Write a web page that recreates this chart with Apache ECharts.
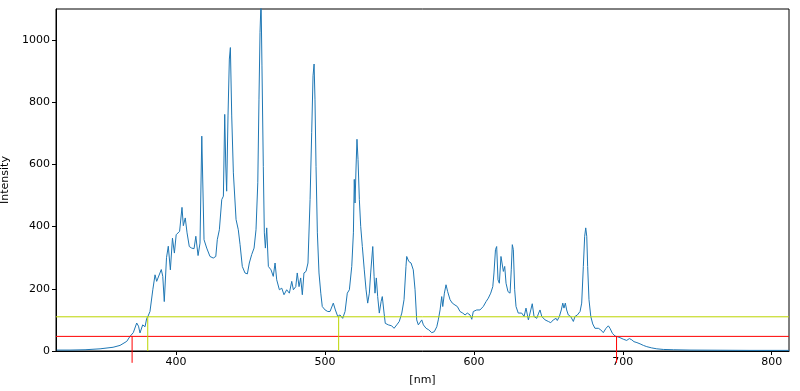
<!DOCTYPE html>
<html>
<head>
<meta charset="utf-8">
<script src="https://cdn.jsdelivr.net/npm/echarts@6/dist/echarts.min.js"></script>
<style>
html,body{margin:0;padding:0;background:#fff;}
#chart{width:800px;height:391px;}
</style>
</head>
<body>
<div id="chart"></div>
<script>
// Spectrum data
const wavelengths = [319.9,328.8,338.9,349.0,357.7,362.4,366.9,369.1,371.3,373.6,374.8,375.8,377.6,379.2,380.3,381.2,382.5,384.4,385.9,387.0,388.3,390.1,391.1,392.1,393.6,394.8,396.2,397.6,398.9,400.1,401.1,402.4,404.0,404.9,406.2,407.4,408.9,410.5,412.1,413.3,414.8,416.1,417.3,417.9,418.8,420.6,422.8,425.0,426.7,427.7,429.1,430.7,431.8,432.7,433.4,434.0,434.9,435.8,436.5,437.4,438.5,440.3,441.8,443.0,444.5,446.3,447.9,449.2,450.8,452.4,453.7,454.9,455.7,456.4,457.1,457.7,458.6,459.3,460.0,460.9,462.0,463.8,465.3,466.5,467.6,469.4,471.0,472.5,474.3,476.1,477.7,478.8,480.4,481.4,482.6,483.7,484.8,485.9,487.3,488.6,490.0,491.1,492.0,492.7,493.3,494.0,494.9,496.0,497.2,498.2,500.1,501.9,503.4,505.6,507.0,508.6,510.1,511.9,513.5,515.0,516.4,518.0,519.1,519.7,520.2,520.9,521.5,522.2,523.1,524.0,525.1,526.4,527.6,528.7,529.8,530.7,532.1,533.0,533.6,534.5,535.4,536.5,537.7,538.5,539.7,540.5,542.6,544.8,546.4,548.2,549.9,551.6,553.1,554.4,554.9,556.3,557.8,559.3,560.5,561.6,562.7,563.8,565.0,566.1,567.9,569.7,571.7,573.4,575.1,576.1,577.3,578.4,579.1,580.2,581.3,582.4,584.0,585.5,587.3,588.9,590.7,592.5,594.1,595.6,597.4,598.6,599.6,601.9,604.1,606.3,608.2,609.7,611.3,612.7,613.5,614.5,615.3,616.2,617.1,618.2,618.9,619.8,620.7,621.6,622.9,624.3,625.1,625.8,626.5,627.4,628.3,629.8,632.1,633.7,635.0,636.6,638.2,639.2,640.4,642.2,643.5,644.4,645.6,647.8,650.0,651.6,653.3,655.2,656.0,657.4,658.7,659.7,660.5,661.4,662.3,663.4,665.0,666.8,667.9,669.5,671.3,672.4,673.5,674.4,675.1,675.8,676.4,677.3,678.5,679.8,681.3,683.6,685.2,686.9,688.7,690.3,691.4,693.0,694.8,696.3,698.1,700.3,702.6,704.4,706.0,707.5,709.5,711.6,713.8,716.1,719.4,722.8,727.2,733.9,745.1,765.3,785.4,811.6];
const intensities = [3,3,4,7,12,18,31,47,59,90,80,58,84,78,105,112,127,197,245,224,218,262,240,159,300,337,261,363,315,374,374,385,462,403,428,380,336,331,329,369,307,347,691,695,358,331,304,299,304,358,390,487,498,761,595,514,756,939,976,756,573,423,390,342,272,251,248,283,310,331,390,541,810,1025,1130,917,594,380,331,396,272,261,240,283,229,197,202,181,197,186,224,197,207,251,207,235,181,251,256,283,487,702,885,923,810,594,380,251,186,143,132,127,127,154,132,111,116,105,127,186,197,272,380,552,476,595,681,616,487,401,336,261,197,154,186,251,336,240,186,235,175,122,159,175,122,89,84,81,73,84,95,122,165,272,304,288,283,261,197,100,84,89,100,84,73,68,59,62,78,100,132,175,143,186,213,191,165,154,148,143,127,122,116,122,116,102,127,132,132,143,159,170,186,207,251,326,336,229,218,304,304,256,272,218,191,186,261,342,326,197,143,122,122,111,138,100,132,152,111,105,122,132,111,100,95,91,100,105,98,111,132,154,138,154,132,116,111,95,111,116,127,154,272,369,396,369,272,165,111,87,73,73,68,59,73,81,73,57,48,46,43,38,34,40,36,30,27,23,18,14,10,7,5,4,3,2.5,2,2];

// Threshold markers
const lowLevel = 47;        // red horizontal level
const highLevel = 110;      // yellow-green horizontal level
const redEdges = [370.5, 695.8];
const greenEdges = [381.0, 509.2];
const redFoot = -38;        // red markers extend below the axis

// Axis setup
const xMin = 319.4, xMax = 811.6;
const yMin = 0, yMax = 1100;
const xTicks = [400, 500, 600, 700, 800];
const yTicks = [0, 200, 400, 600, 800, 1000];

const spectrum = wavelengths.map((w, i) => [w, intensities[i]]);
const GREEN = '#bcd500';
const RED = '#ff0000';

const series = [{
  type: 'line', data: spectrum, showSymbol: false, symbol: 'none',
  lineStyle: {color: '#1f77b4', width: 1}, z: 2, silent: true
}, {
  type: 'line', data: [[xMin, highLevel], [xMax, highLevel]], showSymbol: false, symbol: 'none',
  lineStyle: {color: GREEN, width: 1}, z: 3, silent: true
}, {
  type: 'line', data: [[xMin, lowLevel], [xMax, lowLevel]], showSymbol: false, symbol: 'none',
  lineStyle: {color: RED, width: 1}, z: 3, silent: true
}];
greenEdges.forEach(x => series.push({
  type: 'line', data: [[x, 0], [x, highLevel]], showSymbol: false, symbol: 'none',
  lineStyle: {color: GREEN, width: 1}, z: 3, silent: true
}));
redEdges.forEach(x => series.push({
  type: 'line', data: [[x, redFoot], [x, lowLevel]], showSymbol: false, symbol: 'none', clip: false,
  lineStyle: {color: RED, width: 1}, z: 3, silent: true
}));

const FONT = 'DejaVu Sans';
const chart = echarts.init(document.getElementById('chart'), null, {renderer: 'canvas'});
chart.setOption({
  animation: false,
  backgroundColor: '#fff',
  grid: {left: 56, right: 11, top: 9, bottom: 40, outerBoundsMode: 'none', containLabel: false,
    show: true, borderColor: '#000', borderWidth: 1, backgroundColor: 'transparent'},
  xAxis: {
    type: 'value', min: xMin, max: xMax,
    name: '[nm]', nameLocation: 'middle', nameGap: 24,
    nameTextStyle: {fontFamily: FONT, fontSize: 11, color: '#000'},
    axisLine: {show: true, lineStyle: {color: '#000', width: 1}},
    axisTick: {show: true, inside: false, length: 4, customValues: xTicks, lineStyle: {color: '#000'}},
    axisLabel: {customValues: xTicks, fontFamily: FONT, fontSize: 11, color: '#000', margin: 6,
      formatter: v => String(v)},
    splitLine: {show: false}
  },
  yAxis: {
    type: 'value', min: yMin, max: yMax,
    name: 'Intensity', nameLocation: 'middle', nameGap: 32, nameRotate: 90,
    nameTextStyle: {fontFamily: FONT, fontSize: 11, color: '#000'},
    axisLine: {show: true, lineStyle: {color: '#000', width: 1}},
    axisTick: {show: true, inside: false, length: 4, customValues: yTicks, lineStyle: {color: '#000'}},
    axisLabel: {customValues: yTicks, fontFamily: FONT, fontSize: 11, color: '#000', margin: 6,
      formatter: v => String(v)},
    splitLine: {show: false}
  },
  series: series
});
</script>
</body>
</html>
